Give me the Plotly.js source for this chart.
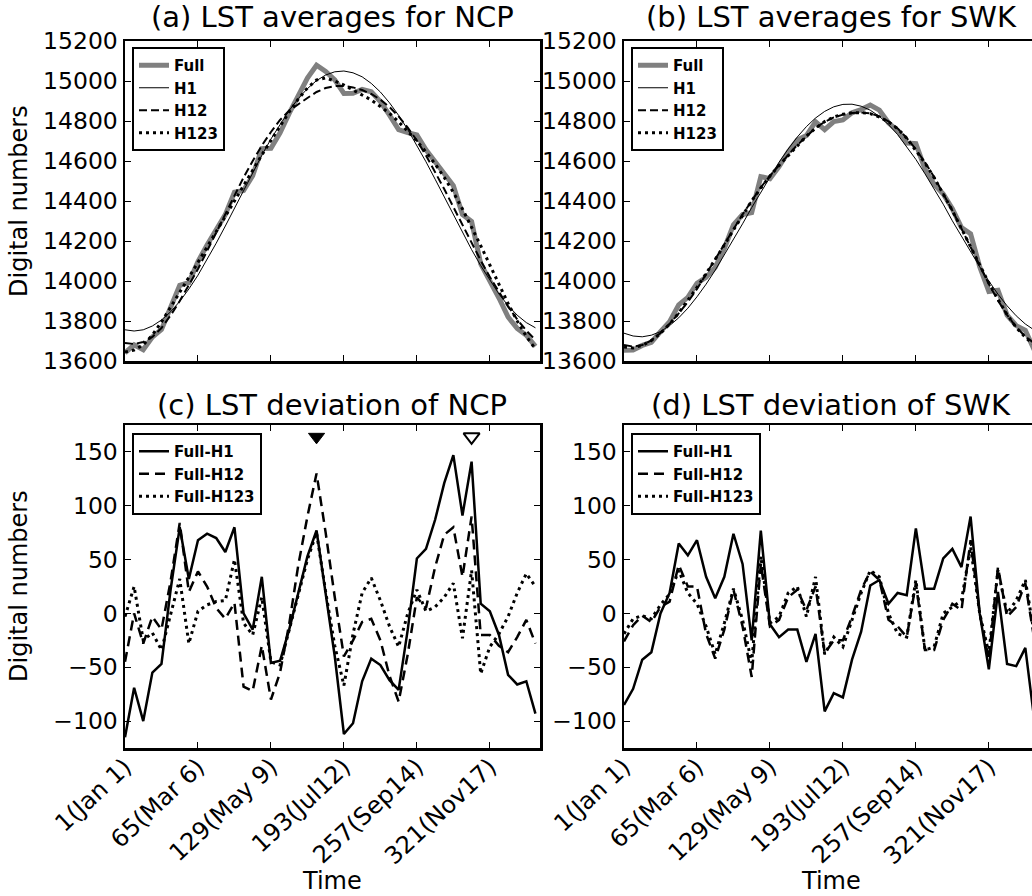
<!DOCTYPE html>
<html>
<head>
<meta charset="utf-8">
<script src="https://cdn.plot.ly/plotly-3.0.1.min.js"></script>
<style>
html,body{margin:0;padding:0;overflow:hidden;background:#fff;}
#chart{width:1040px;height:896px;}
</style>
</head>
<body>
<div id="chart"></div>
<script>
// ---------------- data ----------------
const doy = [1,9,17,25,33,41,49,57,65,73,81,89,97,105,113,121,129,137,145,153,161,169,177,185,193,201,209,217,225,233,241,249,257,265,273,281,289,297,305,313,321,329,337,345,353,361];
const tickVals = [1,65,129,193,257,321];
const tickText = ['1(Jan 1)','65(Mar 6)','129(May 9)','193(Jul12)','257(Sep14)','321(Nov17)'];

// (a) NCP averages
const fullNCP = [13641,13681,13656,13720,13758,13868,13978,13992,14097,14180,14259,14332,14444,14453,14526,14662,14664,14741,14838,14930,15015,15079,15048,15006,14938,14939,14958,14946,14897,14829,14757,14742,14730,14656,14596,14541,14477,14333,14298,14086,14005,13915,13820,13763,13729,13673];
const h1NCP = [13756,13750,13756,13775,13805,13846,13898,13960,14029,14106,14189,14275,14364,14453,14541,14628,14710,14785,14853,14912,14962,15002,15030,15046,15050,15041,15021,14988,14945,14891,14828,14757,14679,14596,14509,14420,14330,14242,14157,14077,14003,13935,13877,13829,13792,13766];
const h12NCP = [13690,13685,13695,13720,13765,13828,13900,13978,14060,14150,14243,14337,14430,14518,14600,14677,14745,14805,14852,14885,14915,14945,14965,14975,14975,14968,14955,14935,14907,14870,14823,14767,14702,14628,14547,14460,14370,14280,14190,14103,14020,13943,13872,13808,13752,13705];
const h123NCP = [13645,13655,13680,13730,13795,13867,13943,14018,14093,14168,14245,14322,14400,14477,14555,14630,14703,14775,14845,14910,14965,15005,15015,15000,14980,14955,14930,14905,14873,14838,14796,14748,14700,14645,14585,14518,14443,14360,14270,14177,14080,13983,13888,13800,13723,13660];

// (b) SWK averages
const fullSWK = [13654,13655,13678,13693,13747,13796,13881,13918,13989,14018,14068,14163,14281,14332,14342,14522,14512,14572,14645,14705,14727,14796,14757,14797,14805,14841,14857,14880,14854,14791,14751,14690,14687,14559,14484,14435,14361,14267,14236,14071,13948,13954,13829,13777,13753,13654];
const h1SWK = [13739,13725,13721,13729,13747,13777,13816,13864,13921,13984,14054,14129,14207,14286,14367,14445,14522,14594,14660,14720,14772,14815,14848,14871,14883,14884,14874,14854,14823,14782,14732,14673,14608,14536,14461,14384,14301,14224,14146,14071,14000,13934,13876,13826,13785,13754];
const h12SWK = [13680,13672,13680,13703,13740,13786,13838,13895,13960,14033,14107,14182,14258,14333,14403,14468,14526,14580,14630,14680,14725,14765,14796,14818,14832,14840,14842,14838,14823,14798,14763,14715,14658,14593,14520,14440,14353,14262,14168,14075,13985,13903,13830,13770,13722,13688];
const h123SWK = [13670,13665,13678,13702,13738,13784,13840,13902,13968,14037,14107,14180,14255,14330,14400,14465,14525,14578,14628,14678,14724,14764,14797,14820,14834,14841,14842,14837,14820,14795,14762,14714,14655,14590,14517,14437,14352,14262,14170,14078,13990,13908,13832,13768,13718,13680];

// (c) NCP deviations
const d1NCP = [-115,-69,-100,-55,-47,22,80,32,68,74,70,57,80,0,-15,34,-46,-44,-15,18,53,77,18,-40,-112,-102,-63,-42,-48,-62,-71,-15,51,60,87,121,147,91,141,9,2,-20,-57,-66,-63,-93];
const d2NCP = [-45,0,-28,-3,-15,30,84,20,39,25,5,-5,10,-68,-72,-30,-80,-55,-10,45,90,130,75,15,-40,-25,-8,-5,-25,-58,-82,-38,15,5,43,73,80,34,90,-20,-20,-30,-36,-22,-6,-28];
const d3NCP = [-3,25,-25,-18,-34,0,32,-28,2,8,11,12,50,-9,-20,15,-45,-48,-15,18,50,75,20,-30,-67,-19,19,33,12,-12,-31,0,22,2,6,15,28,-23,40,-56,-31,-19,-3,19,37,25];

// (d) SWK deviations
const d1SWK = [-85,-70,-43,-36,0,19,65,54,68,34,14,34,74,46,-25,77,-10,-22,-15,-15,-45,-19,-91,-74,-78,-43,-17,26,31,9,19,17,79,23,23,51,60,43,90,0,-52,20,-47,-49,-32,-100];
const d2SWK = [-26,-11,-2,-8,6,11,45,25,25,-19,-42,-15,22,-12,-59,46,-12,-6,15,22,3,25,-37,-25,-25,-3,22,39,31,-6,-12,-22,28,-34,-34,-6,9,3,68,0,-43,43,-3,6,28,-25];
const d3SWK = [-19,-5,-2,-5,8,18,40,19,9,-12,-38,-9,23,-6,-46,53,-9,-3,19,25,-3,34,-38,-22,-31,-6,19,40,34,0,-19,-22,31,-34,-31,0,6,12,62,0,-37,40,0,12,31,-20];

// triangle markers in (c)
const markDOY = [169, 305];
const markVal = [164, 164];

// ---------------- styling / layout ----------------
const FONT = 'DejaVu Sans';
const W = 1040, H = 896;
const px = v => v / W;
const py = v => 1 - v / H;

const sFull = {color:'#808080', width:5};
const sH1 = {color:'#000', width:1};
const sH12 = {color:'#000', width:2, dash:'8px,4px'};
const sH123 = {color:'#000', width:3, dash:'3px,4px'};
const sD1 = {color:'#000', width:2.5};
const sD2 = {color:'#000', width:2.5, dash:'10px,6px'};
const sD3 = {color:'#000', width:3, dash:'3px,4px'};

function tr(y, name, line, xa, ya, leg) {
  return {x: doy, y: y, name: name, mode: 'lines', line: line, xaxis: xa, yaxis: ya, legend: leg, hoverinfo: 'skip'};
}

const data = [
  tr(fullNCP, 'Full', sFull, 'x', 'y', 'legend'),
  tr(h1NCP, 'H1', sH1, 'x', 'y', 'legend'),
  tr(h12NCP, 'H12', sH12, 'x', 'y', 'legend'),
  tr(h123NCP, 'H123', sH123, 'x', 'y', 'legend'),
  tr(fullSWK, 'Full', sFull, 'x2', 'y2', 'legend2'),
  tr(h1SWK, 'H1', sH1, 'x2', 'y2', 'legend2'),
  tr(h12SWK, 'H12', sH12, 'x2', 'y2', 'legend2'),
  tr(h123SWK, 'H123', sH123, 'x2', 'y2', 'legend2'),
  tr(d1NCP, 'Full-H1', sD1, 'x3', 'y3', 'legend3'),
  tr(d2NCP, 'Full-H12', sD2, 'x3', 'y3', 'legend3'),
  tr(d3NCP, 'Full-H123', sD3, 'x3', 'y3', 'legend3'),
  tr(d1SWK, 'Full-H1', sD1, 'x4', 'y4', 'legend4'),
  tr(d2SWK, 'Full-H12', sD2, 'x4', 'y4', 'legend4'),
  tr(d3SWK, 'Full-H123', sD3, 'x4', 'y4', 'legend4'),
  {x:[markDOY[0]], y:[markVal[0]], mode:'markers', xaxis:'x3', yaxis:'y3', showlegend:false, hoverinfo:'skip',
   marker:{symbol:'triangle-down', size:14, color:'#000', line:{color:'#000', width:1}}},
  {x:[markDOY[1]], y:[markVal[1]], mode:'markers', xaxis:'x3', yaxis:'y3', showlegend:false, hoverinfo:'skip',
   marker:{symbol:'triangle-down-open', size:14, color:'#000', line:{color:'#000', width:2}}}
];

const tickFont = {family: FONT, size: 23.5, color: '#000'};
const axBase = {
  showline: true, linewidth: 2.5, linecolor: '#000', mirror: 'allticks',
  ticks: 'inside', ticklen: 6, tickwidth: 1, tickcolor: '#000',
  showgrid: false, zeroline: false, tickfont: tickFont, fixedrange: true
};
function xa(dom, anchor, labels) {
  return Object.assign({}, axBase, {
    domain: dom, anchor: anchor, range: [1, 365], tickmode: 'array',
    tickvals: tickVals, ticktext: tickText, showticklabels: labels, tickangle: -43,
    tickfont: {family: FONT, size: 24, color: '#000'}, ticklabelstandoff: -7
  });
}
function yTop(dom, anchor) {
  return Object.assign({}, axBase, {domain: dom, anchor: anchor, range: [13600, 15200], tick0: 13600, dtick: 200, tickformat: 'd'});
}
function yBot(dom, anchor) {
  return Object.assign({}, axBase, {domain: dom, anchor: anchor, range: [-125, 175], tickmode: 'array',
    tickvals: [-100, -50, 0, 50, 100, 150]});
}

const colL = [px(125), px(540)];
const colR = [px(624), px(1039)];
const rowT = [py(361), py(41)];
const rowB = [py(748), py(425)];

const legFont = {family: FONT, size: 15, color: '#000', weight: 'bold'};
function leg(x, y) {
  return {x: x, y: y, xanchor: 'left', yanchor: 'top', bgcolor: '#fff', bordercolor: '#000',
    borderwidth: 2, font: legFont, tracegroupgap: 0};
}

function ann(text, x, y, size, extra) {
  return Object.assign({text: text, x: x, y: y, xref: 'paper', yref: 'paper', showarrow: false,
    font: {family: FONT, size: size, color: '#000'}, xanchor: 'center', yanchor: 'middle'}, extra || {});
}

const layout = {
  width: W, height: H,
  margin: {l: 0, r: 0, t: 0, b: 0},
  paper_bgcolor: '#fff', plot_bgcolor: '#fff',
  xaxis: xa(colL, 'y', false),
  yaxis: yTop(rowT, 'x'),
  xaxis2: xa(colR, 'y2', false),
  yaxis2: yTop(rowT, 'x2'),
  xaxis3: xa(colL, 'y3', true),
  yaxis3: yBot(rowB, 'x3'),
  xaxis4: xa(colR, 'y4', true),
  yaxis4: yBot(rowB, 'x4'),
  showlegend: true,
  legend: leg(px(132), py(47)),
  legend2: leg(px(631), py(47)),
  legend3: leg(px(132), py(433)),
  legend4: leg(px(631), py(433)),
  annotations: [
    ann('(a) LST averages for NCP', px(332), py(17), 29),
    ann('(b) LST averages for SWK', px(831), py(17), 29),
    ann('(c) LST deviation of NCP', px(332), py(405), 29),
    ann('(d) LST deviation of SWK', px(831), py(405), 29),
    ann('Digital numbers', px(19), py(201), 24, {textangle: -90}),
    ann('Digital numbers', px(19), py(586), 24, {textangle: -90}),
    ann('Time', px(332), py(881), 24),
    ann('Time', px(831), py(881), 24)
  ]
};

Plotly.newPlot('chart', data, layout, {staticPlot: true, displayModeBar: false});
</script>
</body>
</html>
